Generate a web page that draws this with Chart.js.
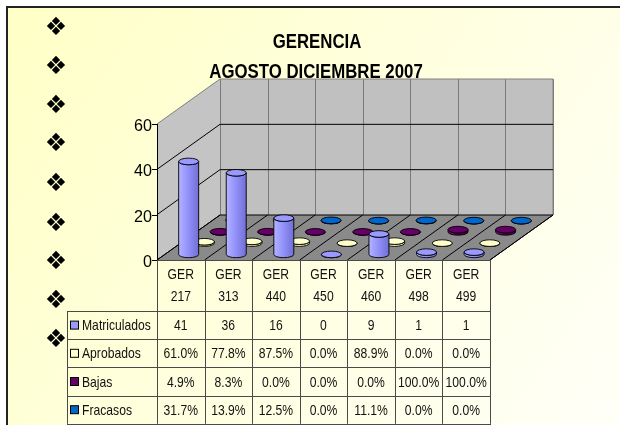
<!DOCTYPE html>
<html>
<head>
<meta charset="utf-8">
<script src="https://cdn.jsdelivr.net/npm/chart.js@4/dist/chart.umd.min.js"></script>
<style>
html,body{margin:0;padding:0;background:#fff;}
canvas{display:block;}
</style>
</head>
<body>
<canvas id="c" width="620" height="425"></canvas>
<script>
// ---- data ----
const categories = ['GER 217','GER 313','GER 440','GER 450','GER 460','GER 498','GER 499'];
const matriculados = [41, 36, 16, 0, 9, 1, 1];
const aprobadosPct = [61.0, 77.8, 87.5, 0.0, 88.9, 0.0, 0.0];
const bajasPct     = [4.9, 8.3, 0.0, 0.0, 0.0, 100.0, 100.0];
const fracasosPct  = [31.7, 13.9, 12.5, 0.0, 11.1, 0.0, 0.0];
const seriesNames  = ['Matriculados', 'Aprobados', 'Bajas', 'Fracasos'];
const yTicks = [0, 20, 40, 60];
const titleLines = ['GERENCIA', 'AGOSTO DICIEMBRE 2007'];

// ---- styles ----
const seriesColors = [
  {base:'#9999FF', light:'#B4B4FF', dark:'#6F6FD6'},
  {base:'#FFFFCC', light:'#FFFFE6', dark:'#CFCF99'},
  {base:'#660066', light:'#7A1A7A', dark:'#3E003E'},
  {base:'#0066CC', light:'#1F7FE0', dark:'#004B99'}
];
const DX = 63, DY = -45;               // depth vector of the 3D box
const REG = '"Liberation Sans",Arial,sans-serif';
const SQUEEZE = 0.81;                  // narrow (condensed) look of the original text

const pct = a => a.map(v => v / 100);
const tableRows = [
  {name: seriesNames[0], vals: matriculados, fmt: v => String(v)},
  {name: seriesNames[1], vals: aprobadosPct, fmt: v => v.toFixed(1) + '%'},
  {name: seriesNames[2], vals: bajasPct, fmt: v => v.toFixed(1) + '%'},
  {name: seriesNames[3], vals: fracasosPct, fmt: v => v.toFixed(1) + '%'}
];

function textX(ctx, s, x, y, align, sx) {
  ctx.save();
  ctx.translate(x, y);
  ctx.scale(sx, 1);
  ctx.textAlign = align;
  ctx.fillText(s, 0, 0);
  ctx.restore();
}

function cylinder(ctx, cx, yBase, yTop, rx, ry, col) {
  const g = ctx.createLinearGradient(cx - rx, 0, cx + rx, 0);
  g.addColorStop(0, col.light);
  g.addColorStop(0.35, col.base);
  g.addColorStop(1, col.dark);
  ctx.save();
  ctx.lineWidth = 0.9;
  ctx.strokeStyle = '#000';
  ctx.beginPath();
  ctx.moveTo(cx - rx, yTop);
  ctx.lineTo(cx - rx, yBase);
  ctx.ellipse(cx, yBase, rx, ry, 0, Math.PI, 0, true);
  ctx.lineTo(cx + rx, yTop);
  ctx.ellipse(cx, yTop, rx, ry, 0, 0, Math.PI, false);
  ctx.closePath();
  ctx.fillStyle = g;
  ctx.fill();
  ctx.stroke();
  ctx.beginPath();
  ctx.ellipse(cx, yTop, rx, ry, 0, 0, Math.PI * 2);
  ctx.fillStyle = col.base;
  ctx.fill();
  ctx.stroke();
  ctx.restore();
}

const scene = {
  id: 'scene3d',
  beforeDraw(chart) {
    const ctx = chart.ctx;
    ctx.save();
    ctx.fillStyle = '#fff';
    ctx.fillRect(0, 0, chart.width, chart.height);
    const g = ctx.createLinearGradient(7, 7, 620, 425);
    g.addColorStop(0, '#FFFFC6');
    g.addColorStop(0.55, '#FFFFE2');
    g.addColorStop(1, '#FFFFF8');
    ctx.fillStyle = g;
    ctx.fillRect(7, 7, chart.width - 7, chart.height - 7);
    ctx.strokeStyle = '#222';
    ctx.lineWidth = 2;
    ctx.beginPath();
    ctx.moveTo(7, chart.height);
    ctx.lineTo(7, 7);
    ctx.lineTo(chart.width, 7);
    ctx.stroke();
    ctx.restore();
  },
  beforeDatasetsDraw(chart) {
    const ctx = chart.ctx, xs = chart.scales.x, ys = chart.scales.y;
    const n = categories.length;
    const catW = xs.getPixelForValue(1) - xs.getPixelForValue(0);
    const L = xs.getPixelForValue(0) - catW / 2;
    const R = xs.getPixelForValue(n - 1) + catW / 2;
    const y0 = ys.getPixelForValue(0), yMax = ys.getPixelForValue(ys.max);
    ctx.save();
    // back wall
    ctx.fillStyle = '#C0C0C0';
    ctx.fillRect(L + DX, yMax + DY, R - L, y0 - yMax);
    // left wall
    ctx.fillStyle = '#C4C4C4';
    ctx.beginPath();
    ctx.moveTo(L, y0); ctx.lineTo(L, yMax); ctx.lineTo(L + DX, yMax + DY); ctx.lineTo(L + DX, y0 + DY);
    ctx.closePath(); ctx.fill();
    // floor
    ctx.fillStyle = '#8A8A8A';
    ctx.beginPath();
    ctx.moveTo(L, y0); ctx.lineTo(R, y0); ctx.lineTo(R + DX, y0 + DY); ctx.lineTo(L + DX, y0 + DY);
    ctx.closePath(); ctx.fill();
    // back wall vertical lines
    ctx.lineWidth = 1;
    ctx.strokeStyle = '#7A7A7A';
    for (let i = 0; i <= n; i++) {
      const x = Math.round(L + i * catW + DX) + 0.5;
      ctx.beginPath(); ctx.moveTo(x, yMax + DY); ctx.lineTo(x, y0 + DY); ctx.stroke();
    }
    // walls outline (top)
    ctx.strokeStyle = '#808080';
    ctx.beginPath();
    ctx.moveTo(L, yMax); ctx.lineTo(L + DX, yMax + DY); ctx.lineTo(R + DX, yMax + DY); ctx.lineTo(R + DX, y0 + DY);
    ctx.stroke();
    // gridlines on walls
    ctx.strokeStyle = '#000';
    yTicks.forEach(v => {
      if (v === ys.max) return;
      const y = ys.getPixelForValue(v);
      ctx.beginPath();
      ctx.moveTo(L, y); ctx.lineTo(L + DX, y + DY); ctx.lineTo(R + DX, y + DY);
      ctx.stroke();
    });
    // floor category lines
    for (let i = 0; i <= n; i++) {
      const x = L + i * catW;
      ctx.beginPath(); ctx.moveTo(x, y0); ctx.lineTo(x + DX, y0 + DY); ctx.stroke();
    }
    ctx.beginPath(); ctx.moveTo(R, y0); ctx.lineTo(R + DX, y0 + DY); ctx.stroke();
    // y axis
    ctx.beginPath(); ctx.moveTo(L + 0.5, yMax); ctx.lineTo(L + 0.5, y0); ctx.stroke();
    ctx.fillStyle = '#000';
    ctx.font = '17px ' + REG;
    ctx.textBaseline = 'middle';
    yTicks.forEach(v => {
      const y = Math.round(ys.getPixelForValue(v)) + 0.5;
      ctx.beginPath(); ctx.moveTo(L - 5, y); ctx.lineTo(L, y); ctx.stroke();
      textX(ctx, String(v), L - 5, y + 2, 'right', 0.95);
    });
    ctx.restore();
  },
  afterDatasetsDraw(chart) {
    const ctx = chart.ctx, xs = chart.scales.x, ys = chart.scales.y;
    const n = categories.length;
    const catW = xs.getPixelForValue(1) - xs.getPixelForValue(0);
    const L = xs.getPixelForValue(0) - catW / 2;
    const R = xs.getPixelForValue(n - 1) + catW / 2;
    const y0 = ys.getPixelForValue(0);
    const ns = chart.data.datasets.length;
    const rx = catW * 0.21, ry = 3.3;
    // cylinders, back series first
    for (let s = ns - 1; s >= 0; s--) {
      const f = (s + 0.5) / ns;
      const data = chart.data.datasets[s].data;
      for (let i = 0; i < n; i++) {
        const cx = xs.getPixelForValue(i) + DX * f;
        const yb = y0 + DY * f;
        const yt = ys.getPixelForValue(data[i]) + DY * f;
        cylinder(ctx, cx, yb, yt, rx, ry, seriesColors[s]);
      }
    }
    // data table
    ctx.save();
    const legL = 67, hdrB = 311, rowH = 28.2;
    ctx.strokeStyle = '#4A4A4A';
    ctx.lineWidth = 1;
    const tBottom = hdrB + rowH * tableRows.length;
    for (let i = 0; i <= n; i++) {
      const x = Math.round(L + i * catW) + 0.5;
      ctx.beginPath(); ctx.moveTo(x, y0); ctx.lineTo(x, tBottom); ctx.stroke();
    }
    ctx.beginPath(); ctx.moveTo(legL + 0.5, hdrB); ctx.lineTo(legL + 0.5, tBottom); ctx.stroke();
    for (let r = 0; r <= tableRows.length; r++) {
      const y = Math.round(hdrB + r * rowH) + 0.5;
      ctx.beginPath(); ctx.moveTo(legL, y); ctx.lineTo(R + 1, y); ctx.stroke();
    }
    ctx.beginPath(); ctx.moveTo(L, Math.round(y0) + 0.5); ctx.lineTo(R, Math.round(y0) + 0.5); ctx.stroke();
    ctx.fillStyle = '#111';
    ctx.font = '15px ' + REG;
    ctx.textBaseline = 'middle';
    categories.forEach((c, i) => {
      const parts = c.split(' ');
      const x = xs.getPixelForValue(i);
      textX(ctx, parts[0], x, 275, 'center', SQUEEZE);
      textX(ctx, parts[1], x, 297, 'center', SQUEEZE);
    });
    tableRows.forEach((row, r) => {
      const yc = hdrB + r * rowH + rowH / 2 + 1;
      ctx.fillStyle = seriesColors[r].base;
      ctx.fillRect(70.5, yc - 5, 8, 8);
      ctx.strokeStyle = '#000';
      ctx.strokeRect(70.5, yc - 5, 8, 8);
      ctx.fillStyle = '#111';
      textX(ctx, row.name, 82, yc, 'left', SQUEEZE);
      row.vals.forEach((v, i) => textX(ctx, row.fmt(v), xs.getPixelForValue(i), yc, 'center', SQUEEZE));
    });
    ctx.restore();
  },
  afterDraw(chart) {
    const ctx = chart.ctx;
    ctx.save();
    ctx.fillStyle = '#000';
    ctx.font = 'bold 21px ' + REG;
    ctx.textBaseline = 'alphabetic';
    textX(ctx, titleLines[0], 317, 48, 'center', 0.8);
    textX(ctx, titleLines[1], 316, 78, 'center', 0.8);
    // slide bullets
    ctx.font = '25px "DejaVu Sans",sans-serif';
    ctx.textBaseline = 'middle';
    ctx.textAlign = 'center';
    [28, 67, 106, 144, 184, 224, 262, 301, 340].forEach(y => ctx.fillText('\u2756', 56, y));
    ctx.restore();
  }
};

new Chart(document.getElementById('c'), {
  type: 'bar',
  data: {
    labels: categories,
    datasets: [
      {label: seriesNames[0], data: matriculados, backgroundColor: 'rgba(0,0,0,0)'},
      {label: seriesNames[1], data: pct(aprobadosPct), backgroundColor: 'rgba(0,0,0,0)'},
      {label: seriesNames[2], data: pct(bajasPct), backgroundColor: 'rgba(0,0,0,0)'},
      {label: seriesNames[3], data: pct(fracasosPct), backgroundColor: 'rgba(0,0,0,0)'}
    ]
  },
  options: {
    responsive: false,
    animation: false,
    devicePixelRatio: 1,
    layout: {padding: {left: 157, right: 130, top: 124, bottom: 165}},
    plugins: {legend: {display: false}, tooltip: {enabled: false}, title: {display: false}},
    scales: {
      x: {type: 'category', display: false, offset: true},
      y: {display: false, min: 0, max: 60, ticks: {stepSize: 20}}
    }
  },
  plugins: [scene]
});
</script>
</body>
</html>
